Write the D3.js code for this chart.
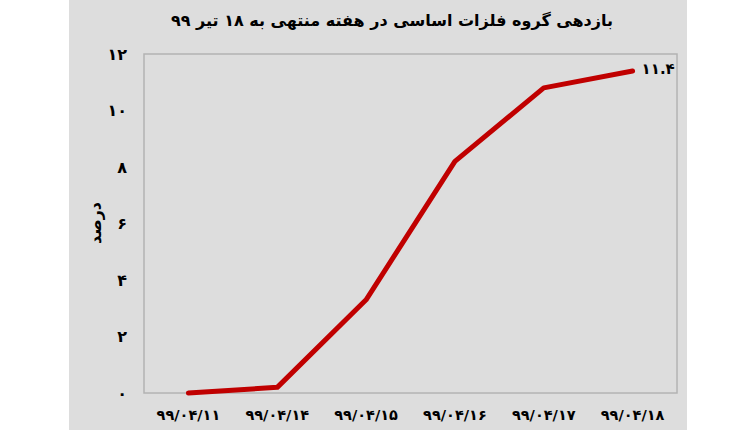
<!DOCTYPE html>
<html><head><meta charset="utf-8">
<script src="https://cdn.jsdelivr.net/npm/d3@7"></script>
<style>
html,body{margin:0;padding:0;background:#fff;}
svg{display:block;}
text{font-family:"DejaVu Sans",sans-serif;font-weight:bold;fill:#000;}
</style></head>
<body>
<svg id="c" width="750" height="430"></svg>
<script>
const categories = ["۹۹/۰۴/۱۱","۹۹/۰۴/۱۴","۹۹/۰۴/۱۵","۹۹/۰۴/۱۶","۹۹/۰۴/۱۷","۹۹/۰۴/۱۸"];
const values = [0, 0.2, 3.3, 8.2, 10.8, 11.4];
const yTicks = [0, 2, 4, 6, 8, 10, 12];
const yTickLabels = ["۰","۲","۴","۶","۸","۱۰","۱۲"];
const endLabel = "۱۱.۴";
const titleText = "بازدهی گروه فلزات اساسی در هفته منتهی به ۱۸ تیر ۹۹";
const yTitle = "درصد";

const svg = d3.select("#c");
const plot = {left:144, right:677, top:54, bottom:393};

svg.append("rect").attr("x",69).attr("y",0).attr("width",618).attr("height",430).attr("fill","#dddddd");

const x = d3.scaleBand().domain(categories).range([plot.left, plot.right]);
const y = d3.scaleLinear().domain([0,12]).range([plot.bottom, plot.top]);

svg.append("rect").attr("x",plot.left).attr("y",plot.top)
  .attr("width",plot.right-plot.left).attr("height",plot.bottom-plot.top)
  .attr("fill","none").attr("stroke","#b3b3b3").attr("stroke-width",1.5);

// y axis
const yAxis = d3.axisLeft(y).tickValues(yTicks).tickSize(0).tickPadding(0)
  .tickFormat((d,i)=>yTickLabels[i]);
const gy = svg.append("g").attr("transform","translate(127,0)").call(yAxis);
gy.select(".domain").remove();
gy.selectAll("text").attr("font-size",16).attr("font-family","DejaVu Sans").attr("font-weight","bold").attr("fill","#000").attr("direction","ltr");

// x axis
const xAxis = d3.axisBottom(x).tickSize(0).tickPadding(0);
const gx = svg.append("g").attr("transform","translate(0,410)").call(xAxis);
gx.select(".domain").remove();
gx.selectAll("text").attr("font-size",14.5).attr("font-family","DejaVu Sans").attr("font-weight","bold").attr("fill","#000").attr("direction","ltr");

// line
const line = d3.line().x((d,i)=>x(categories[i])+x.bandwidth()/2).y(d=>y(d));
svg.append("path").datum(values).attr("d",line).attr("fill","none")
  .attr("stroke","#c00000").attr("stroke-width",5).attr("stroke-linecap","round").attr("stroke-linejoin","round");

const lastX = x(categories[categories.length-1]) + x.bandwidth()/2;
svg.append("text").attr("x",lastX+9).attr("y",y(values[values.length-1])-1)
  .attr("dominant-baseline","middle").attr("font-size",15).attr("direction","ltr").text(endLabel);

// title
svg.append("text").attr("x",392).attr("y",26).attr("text-anchor","middle")
  .attr("direction","rtl").attr("font-size",16).text(titleText);

// y title
svg.append("text").attr("transform","translate(96,223) rotate(-90)")
  .attr("text-anchor","middle").attr("dominant-baseline","middle").attr("direction","rtl")
  .attr("font-size",16).attr("font-weight","normal").text(yTitle);
</script>
</body></html>
